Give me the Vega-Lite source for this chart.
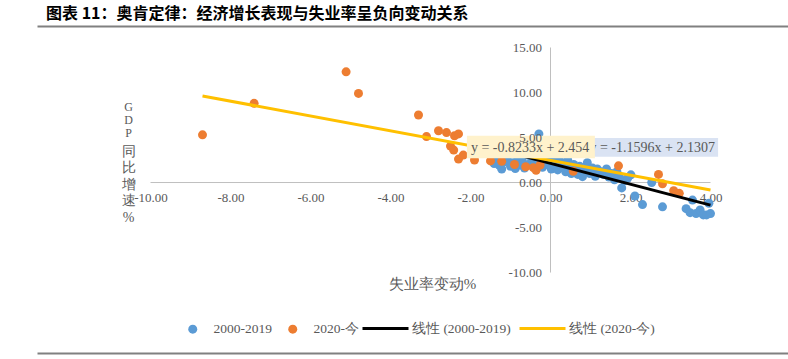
{
  "$schema": "https://vega.github.io/schema/vega-lite/v6.json",
  "width": 751,
  "height": 327,
  "autosize": {"type": "none"},
  "padding": {"left": 37, "top": 26, "right": 0, "bottom": 6},
  "background": "white",
  "config": {"view": {"stroke": null}, "font": "Liberation Serif"},
  "title": {"text": "图表 11：奥肯定律：经济增长表现与失业率呈负向变动关系", "anchor": "start", "dx": 9, "offset": 4, "font": "Noto Sans CJK SC", "fontSize": 16, "fontWeight": "bold", "color": "#000000"},
  "layer": [
    {
      "data": {"values": [
        {"x": -10, "x2": 4, "y": 0, "y2": 0},
        {"x": 0, "x2": 0, "y": -10, "y2": 15}
      ]},
      "mark": {"type": "rule", "color": "#bfbfbf", "strokeWidth": 1},
      "encoding": {
        "x": {"field": "x", "type": "quantitative", "scale": {"domain": [-12.8375, 5.9375], "nice": false, "zero": false},
          "axis": {"orient": "top", "domain": true, "domainColor": "#808080", "domainWidth": 2, "labels": false, "ticks": false, "grid": false, "title": null}},
        "x2": {"field": "x2"},
        "y": {"field": "y", "type": "quantitative", "scale": {"domain": [-18.94, 17.39], "nice": false, "zero": false},
          "axis": {"orient": "left", "domain": false, "labels": false, "ticks": false, "grid": false, "title": ["同", "比", "增", "速", "%"], "titleAngle": 0, "titleX": 91, "titleY": 118, "titleAlign": "center", "titleBaseline": "top", "titleLineHeight": 16.5, "titleFont": "Liberation Serif", "titleFontSize": 14, "titleFontWeight": "normal", "titleColor": "#595959"}},
        "y2": {"field": "y2"}
      }
    },
    {
      "data": {"values": [
        {"x": -1.41, "y": 2.1, "series": "2000-2019"},
        {"x": -1.35, "y": 2.6, "series": "2000-2019"},
        {"x": -1.28, "y": 1.9, "series": "2000-2019"},
        {"x": -1.22, "y": 1.5, "series": "2000-2019"},
        {"x": -1.15, "y": 2.3, "series": "2000-2019"},
        {"x": -1.08, "y": 2.8, "series": "2000-2019"},
        {"x": -1.0, "y": 1.8, "series": "2000-2019"},
        {"x": -0.95, "y": 2.2, "series": "2000-2019"},
        {"x": -0.88, "y": 1.55, "series": "2000-2019"},
        {"x": -0.82, "y": 2.6, "series": "2000-2019"},
        {"x": -0.76, "y": 1.95, "series": "2000-2019"},
        {"x": -0.7, "y": 2.35, "series": "2000-2019"},
        {"x": -0.65, "y": 1.6, "series": "2000-2019"},
        {"x": -0.58, "y": 3.1, "series": "2000-2019"},
        {"x": -0.52, "y": 2.05, "series": "2000-2019"},
        {"x": -0.47, "y": 2.5, "series": "2000-2019"},
        {"x": -0.42, "y": 1.85, "series": "2000-2019"},
        {"x": -0.36, "y": 2.9, "series": "2000-2019"},
        {"x": -0.29, "y": 5.4, "series": "2000-2019"},
        {"x": -0.25, "y": 2.3, "series": "2000-2019"},
        {"x": -0.2, "y": 1.7, "series": "2000-2019"},
        {"x": -0.15, "y": 3.3, "series": "2000-2019"},
        {"x": -0.1, "y": 2.0, "series": "2000-2019"},
        {"x": -0.05, "y": 2.6, "series": "2000-2019"},
        {"x": 0.02, "y": 1.5, "series": "2000-2019"},
        {"x": 0.08, "y": 2.3, "series": "2000-2019"},
        {"x": 0.12, "y": 1.9, "series": "2000-2019"},
        {"x": 0.18, "y": 1.4, "series": "2000-2019"},
        {"x": 0.22, "y": 2.8, "series": "2000-2019"},
        {"x": 0.28, "y": 1.7, "series": "2000-2019"},
        {"x": 0.33, "y": 2.1, "series": "2000-2019"},
        {"x": 0.38, "y": 1.2, "series": "2000-2019"},
        {"x": 0.43, "y": 2.5, "series": "2000-2019"},
        {"x": 0.48, "y": 1.6, "series": "2000-2019"},
        {"x": 0.52, "y": 1.0, "series": "2000-2019"},
        {"x": 0.58, "y": 2.0, "series": "2000-2019"},
        {"x": 0.63, "y": 1.4, "series": "2000-2019"},
        {"x": 0.68, "y": 0.9, "series": "2000-2019"},
        {"x": 0.73, "y": 1.8, "series": "2000-2019"},
        {"x": 0.8, "y": 0.65, "series": "2000-2019"},
        {"x": 0.85, "y": 1.3, "series": "2000-2019"},
        {"x": 0.92, "y": 2.2, "series": "2000-2019"},
        {"x": 0.98, "y": 1.0, "series": "2000-2019"},
        {"x": 1.05, "y": 1.6, "series": "2000-2019"},
        {"x": 1.12, "y": 0.7, "series": "2000-2019"},
        {"x": 1.17, "y": 1.5, "series": "2000-2019"},
        {"x": 1.25, "y": 1.2, "series": "2000-2019"},
        {"x": 1.32, "y": 0.9, "series": "2000-2019"},
        {"x": 1.4, "y": 1.5, "series": "2000-2019"},
        {"x": 1.46, "y": 0.6, "series": "2000-2019"},
        {"x": 1.52, "y": 1.0, "series": "2000-2019"},
        {"x": 1.6, "y": 0.3, "series": "2000-2019"},
        {"x": 1.66, "y": 1.2, "series": "2000-2019"},
        {"x": 1.72, "y": 0.7, "series": "2000-2019"},
        {"x": 1.78, "y": -0.6, "series": "2000-2019"},
        {"x": 1.85, "y": 0.2, "series": "2000-2019"},
        {"x": 1.93, "y": 0.5, "series": "2000-2019"},
        {"x": 2.01, "y": 0.85, "series": "2000-2019"},
        {"x": 2.11, "y": -1.5, "series": "2000-2019"},
        {"x": 2.3, "y": -2.45, "series": "2000-2019"},
        {"x": 2.53, "y": 0.0, "series": "2000-2019"},
        {"x": 2.8, "y": -2.7, "series": "2000-2019"},
        {"x": 3.39, "y": -2.9, "series": "2000-2019"},
        {"x": 3.49, "y": -3.35, "series": "2000-2019"},
        {"x": 3.55, "y": -1.95, "series": "2000-2019"},
        {"x": 3.64, "y": -3.45, "series": "2000-2019"},
        {"x": 3.74, "y": -3.05, "series": "2000-2019"},
        {"x": 3.82, "y": -3.6, "series": "2000-2019"},
        {"x": 3.9, "y": -3.6, "series": "2000-2019"},
        {"x": 3.96, "y": -2.3, "series": "2000-2019"},
        {"x": 4.0, "y": -3.45, "series": "2000-2019"},
        {"x": -8.7, "y": 5.3, "series": "2020-今"},
        {"x": -7.41, "y": 8.8, "series": "2020-今"},
        {"x": -5.11, "y": 12.3, "series": "2020-今"},
        {"x": -4.8, "y": 9.9, "series": "2020-今"},
        {"x": -3.3, "y": 7.5, "series": "2020-今"},
        {"x": -3.1, "y": 5.1, "series": "2020-今"},
        {"x": -2.8, "y": 5.75, "series": "2020-今"},
        {"x": -2.6, "y": 5.55, "series": "2020-今"},
        {"x": -2.4, "y": 5.2, "series": "2020-今"},
        {"x": -2.3, "y": 5.4, "series": "2020-今"},
        {"x": -2.5, "y": 4.05, "series": "2020-今"},
        {"x": -2.42, "y": 3.6, "series": "2020-今"},
        {"x": -2.3, "y": 2.6, "series": "2020-今"},
        {"x": -2.18, "y": 3.05, "series": "2020-今"},
        {"x": -1.9, "y": 2.5, "series": "2020-今"},
        {"x": -1.5, "y": 2.4, "series": "2020-今"},
        {"x": -1.22, "y": 2.35, "series": "2020-今"},
        {"x": -0.9, "y": 2.0, "series": "2020-今"},
        {"x": -0.62, "y": 1.75, "series": "2020-今"},
        {"x": -0.43, "y": 1.65, "series": "2020-今"},
        {"x": -0.36, "y": 1.35, "series": "2020-今"},
        {"x": -0.26, "y": 1.95, "series": "2020-今"},
        {"x": 0.57, "y": 1.25, "series": "2020-今"},
        {"x": 1.7, "y": 1.85, "series": "2020-今"},
        {"x": 2.7, "y": 0.9, "series": "2020-今"},
        {"x": 2.8, "y": -0.15, "series": "2020-今"},
        {"x": 3.08, "y": -0.9, "series": "2020-今"},
        {"x": 3.22, "y": -1.2, "series": "2020-今"}
      ]},
      "mark": {"type": "point", "filled": true, "opacity": 1, "shape": "circle", "size": 81},
      "encoding": {
        "x": {"field": "x", "type": "quantitative", "scale": {"domain": [-12.8375, 5.9375], "nice": false, "zero": false},
          "axis": {"orient": "bottom", "domain": true, "domainColor": "#808080", "domainWidth": 2, "labels": false, "ticks": false, "grid": false, "title": "失业率变动%", "titleX": 395, "titleY": -70, "titleAlign": "center", "titleBaseline": "middle", "titleFont": "Liberation Serif", "titleFontSize": 15, "titleFontWeight": "normal", "titleColor": "#595959"}},
        "y": {"field": "y", "type": "quantitative", "scale": {"domain": [-18.94, 17.39], "nice": false, "zero": false},
          "axis": {"orient": "left", "offset": -513.5, "domain": false, "ticks": false, "tickSize": 0, "grid": false, "title": null, "values": [-10, -5, 0, 5, 10, 15], "labelExpr": "(datum.value < 0 ? '-' : '') + format(abs(datum.value), '.2f')", "labelFont": "Liberation Serif", "labelFontSize": 13, "labelColor": "#595959", "labelPadding": 9, "zindex": 1}},
        "color": {"field": "series", "type": "nominal",
          "scale": {"domain": ["2000-2019", "2020-今"], "range": ["#5b9bd5", "#ed7d31"]},
          "legend": {"orient": "none", "legendX": 149, "legendY": 296, "direction": "horizontal", "title": null, "labelFont": "Liberation Serif", "labelFontSize": 13.5, "labelColor": "#595959", "labelOffset": 14, "columnPadding": 14, "padding": 0, "symbolType": "circle", "symbolSize": 81, "symbolStrokeWidth": 0, "symbolOpacity": 1}}
      }
    },
    {
      "data": {"values": [
        {"x": -1.41, "y": 3.766, "series": "线性 (2000-2019)"},
        {"x": 4.0, "y": -2.508, "series": "线性 (2000-2019)"},
        {"x": -8.7, "y": 9.617, "series": "线性 (2020-今)"},
        {"x": 4.0, "y": -0.839, "series": "线性 (2020-今)"}
      ]},
      "mark": {"type": "line", "strokeWidth": 3},
      "encoding": {
        "x": {"field": "x", "type": "quantitative", "scale": {"domain": [-12.8375, 5.9375], "nice": false, "zero": false},
          "axis": {"orient": "bottom", "offset": -170.5, "domain": false, "ticks": false, "tickSize": 0, "grid": false, "title": null, "values": [-10, -8, -6, -4, -2, 0, 2, 4], "labelExpr": "(datum.value < 0 ? '-' : '') + format(abs(datum.value), '.2f')", "labelFont": "Liberation Serif", "labelFontSize": 13, "labelColor": "#595959", "labelPadding": 9}},
        "y": {"field": "y", "type": "quantitative", "scale": {"domain": [-18.94, 17.39], "nice": false, "zero": false},
          "axis": {"orient": "left", "domain": false, "labels": false, "ticks": false, "grid": false, "title": ["G", "D", "P"], "titleAngle": 0, "titleX": 91, "titleY": 75, "titleAlign": "center", "titleBaseline": "top", "titleLineHeight": 13, "titleFont": "Liberation Serif", "titleFontSize": 12, "titleFontWeight": "normal", "titleColor": "#595959"}},
        "stroke": {"field": "series", "type": "nominal",
          "scale": {"domain": ["线性 (2000-2019)", "线性 (2020-今)"], "range": ["#000000", "#ffc000"]},
          "legend": {"orient": "none", "legendX": 324, "legendY": 278, "direction": "horizontal", "title": null, "labelFont": "Liberation Serif", "labelFontSize": 13.5, "labelColor": "#595959", "labelOffset": 2, "columnPadding": 2, "padding": 0, "symbolType": "stroke", "symbolSize": 2116, "symbolStrokeWidth": 3}}
      }
    },
    {
      "data": {"values": [{"x": 0.85, "x2": 4.19, "y": 2.87, "y2": 4.94}]},
      "mark": {"type": "rect", "color": "#dae3f3"},
      "encoding": {
        "x": {"field": "x", "type": "quantitative", "scale": {"domain": [-12.8375, 5.9375], "nice": false, "zero": false}, "axis": null},
        "x2": {"field": "x2"},
        "y": {"field": "y", "type": "quantitative", "scale": {"domain": [-18.94, 17.39], "nice": false, "zero": false}, "axis": null},
        "y2": {"field": "y2"}
      }
    },
    {
      "data": {"values": [{"x": 4.11, "y": 3.85, "label": "y = -1.1596x + 2.1307"}]},
      "mark": {"type": "text", "align": "right", "baseline": "middle", "font": "Liberation Serif", "fontSize": 14, "color": "#595959"},
      "encoding": {
        "x": {"field": "x", "type": "quantitative", "scale": {"domain": [-12.8375, 5.9375], "nice": false, "zero": false}, "axis": null},
        "y": {"field": "y", "type": "quantitative", "scale": {"domain": [-18.94, 17.39], "nice": false, "zero": false}, "axis": null},
        "text": {"field": "label"}
      }
    },
    {
      "data": {"values": [{"x": -2.09, "x2": 1.11, "y": 2.69, "y2": 5.2}]},
      "mark": {"type": "rect", "color": "#fff2cc"},
      "encoding": {
        "x": {"field": "x", "type": "quantitative", "scale": {"domain": [-12.8375, 5.9375], "nice": false, "zero": false}, "axis": null},
        "x2": {"field": "x2"},
        "y": {"field": "y", "type": "quantitative", "scale": {"domain": [-18.94, 17.39], "nice": false, "zero": false}, "axis": null},
        "y2": {"field": "y2"}
      }
    },
    {
      "data": {"values": [{"x": -1.99, "y": 3.85, "label": "y = -0.8233x + 2.454"}]},
      "mark": {"type": "text", "align": "left", "baseline": "middle", "font": "Liberation Serif", "fontSize": 14, "color": "#595959"},
      "encoding": {
        "x": {"field": "x", "type": "quantitative", "scale": {"domain": [-12.8375, 5.9375], "nice": false, "zero": false}, "axis": null},
        "y": {"field": "y", "type": "quantitative", "scale": {"domain": [-18.94, 17.39], "nice": false, "zero": false}, "axis": null},
        "text": {"field": "label"}
      }
    }
  ],
  "resolve": {"axis": {"x": "independent", "y": "independent"}}
}
